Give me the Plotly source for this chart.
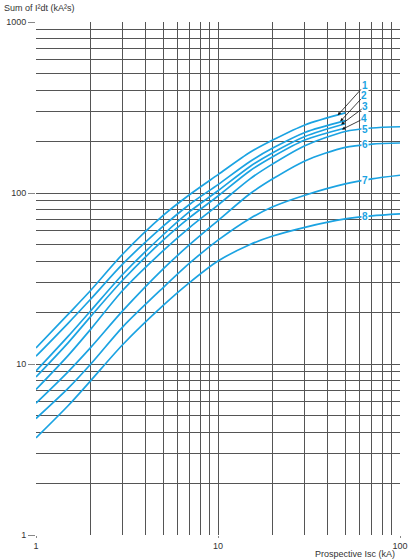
import math
import plotly.graph_objects as go

# ---- data ----
isc_short = [1, 1.5, 2, 3, 5, 7, 10, 15, 20, 30, 50]
isc_long = [1, 1.5, 2, 3, 5, 7, 10, 15, 20, 30, 50, 70, 100]

curve_1 = [12.4, 19.5, 27, 44, 74, 98, 128, 173, 204, 250, 294]
curve_2 = [11.1, 17.3, 24, 38.5, 64, 86, 112, 153, 183, 226, 265]
curve_3 = [9.1, 14.5, 20.5, 33.5, 57, 78, 103, 143, 172, 214, 254]
curve_4 = [8.4, 13.3, 19, 31, 53, 72, 96, 135, 163, 204, 240]
curve_5 = [7.1, 11.2, 16, 27, 46, 63, 85, 121, 148, 189, 229, 240, 244]
curve_6 = [5.9, 9.0, 12.5, 20.5, 36, 50, 69, 99, 121, 154, 185, 193, 196]
curve_7 = [4.8, 7.2, 10, 16.5, 28, 39, 53, 71, 83, 97, 113, 121, 127]
curve_8 = [3.7, 5.7, 8, 13, 22, 30, 40, 50, 56, 63, 70.5, 73.5, 75.5]

curve_names = ["1", "2", "3", "4", "5", "6", "7", "8"]
x_ticks = [1, 10, 100]
y_ticks = [1, 10, 100, 1000]

BLUE = "#1ba3e2"
GRID = "#555555"
TXT = "#333333"
FONT = "Liberation Sans, Arial"

series = [
    (isc_short, curve_1), (isc_short, curve_2), (isc_short, curve_3), (isc_short, curve_4),
    (isc_long, curve_5), (isc_long, curve_6), (isc_long, curve_7), (isc_long, curve_8),
]

fig = go.Figure()
for name, (xs, ys) in zip(curve_names, series):
    fig.add_trace(go.Scatter(x=xs, y=ys, mode="lines", name=name,
                             line=dict(color=BLUE, width=1.7, shape="spline", smoothing=0.8),
                             showlegend=False, hoverinfo="skip"))

def minor_vals(lo, hi):
    vals = []
    d = lo
    while d < hi:
        for m in range(2, 10):
            vals.append(m * d)
        d *= 10
    return vals

fig.update_xaxes(type="log", range=[0, 2], tickvals=x_ticks, ticktext=[str(v) for v in x_ticks],
                 showgrid=True, gridcolor=GRID, gridwidth=1, automargin=False,
                 ticks="outside", ticklen=2, tickcolor="#888888",
                 tickfont=dict(family=FONT, size=9, color=TXT),
                 minor=dict(tickvals=minor_vals(1, 100), showgrid=True, gridcolor=GRID, gridwidth=1, ticks=""),
                 showline=False, zeroline=False)
fig.update_yaxes(type="log", range=[0, 3], tickvals=y_ticks, ticktext=[str(v) for v in y_ticks],
                 showgrid=True, gridcolor=GRID, gridwidth=1, automargin=False,
                 ticks="outside", ticklen=7, tickcolor="#888888",
                 tickfont=dict(family=FONT, size=9, color=TXT),
                 minor=dict(tickvals=minor_vals(1, 1000), showgrid=True, gridcolor=GRID, gridwidth=1, ticks=""),
                 showline=False, zeroline=False)

lab_font = dict(family=FONT, size=10, color=BLUE)
L = math.log10

# labels 1-4 with arrows pointing to curve ends
arrow_specs = [
    ("1", isc_short[-1] * 0.91, curve_1[-1] * 0.97, 27, -30),
    ("2", isc_short[-1] * 0.94, curve_2[-1] * 0.99, 24, -26),
    ("3", isc_short[-1] * 0.95, curve_3[-1] * 0.99, 24, -18),
    ("4", isc_short[-1] * 0.96, curve_4[-1] * 0.98, 22, -11),
]
for t, x, y, ax, ay in arrow_specs:
    fig.add_annotation(x=L(x), y=L(y), xref="x", yref="y", text="<b>%s</b>" % t, font=lab_font,
                       showarrow=True, arrowhead=2, arrowsize=0.8, arrowwidth=0.8, arrowcolor="#111111",
                       ax=ax, ay=ay, bgcolor="white", borderpad=0, xanchor="center", yanchor="middle")

# labels 5-8 sitting on the curves
for t, y in zip(["5", "6", "7", "8"], [236, 191, 119, 72.5]):
    fig.add_annotation(x=L(64), y=L(y), xref="x", yref="y", text="<b>%s</b>" % t, font=lab_font,
                       showarrow=False, bgcolor="white", borderpad=0)

fig.add_annotation(x=0, y=1, xref="paper", yref="paper", xanchor="left", yanchor="bottom",
                   xshift=-34, yshift=7, showarrow=False, text="Sum of I²dt (kA²s)",
                   font=dict(family=FONT, size=9, color=TXT))
fig.add_annotation(x=1, y=0, xref="paper", yref="paper", xanchor="right", yanchor="bottom",
                   xshift=-4, yshift=-25, showarrow=False, text="Prospective Isc (kA)", borderpad=0,
                   font=dict(family=FONT, size=9, color=TXT))

fig.update_layout(width=415, height=560, margin=dict(l=36, r=15, t=22, b=25),
                  paper_bgcolor="white", plot_bgcolor="white")

fig.write_html("out.html")
